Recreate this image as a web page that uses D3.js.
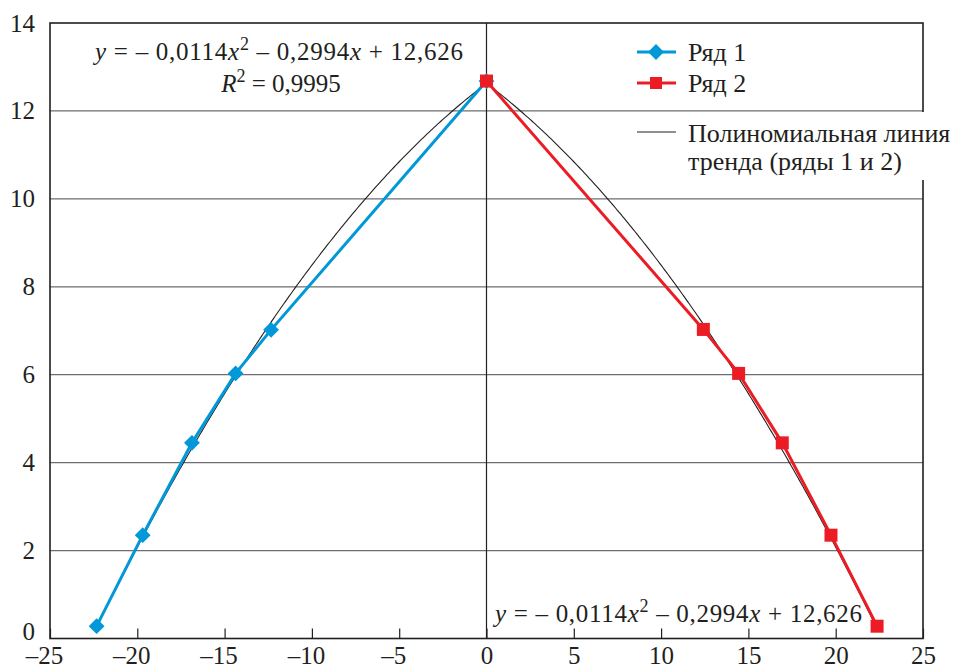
<!DOCTYPE html>
<html>
<head>
<meta charset="utf-8">
<script src="https://cdn.jsdelivr.net/npm/d3@7"></script>
<style>
  body { margin: 0; background: #fff; }
  svg text { font-family: "Liberation Serif", "DejaVu Serif", "Times New Roman", Times, serif; fill: #231f20; }
</style>
</head>
<body>
<div id="chart"></div>
<script>
// data
const series1X = [-22.33, -19.69, -16.87, -14.37, -12.34, 0];
const series1Y = [0.28, 2.35, 4.45, 6.03, 7.02, 12.68];
const series2X = [0, 12.42, 14.44, 16.94, 19.73, 22.37];
const series2Y = [12.68, 7.03, 6.03, 4.45, 2.35, 0.28];
// polynomial trend y = a*t^2 + b*t + c, t = |x| (from the equation on the chart)
const trendCoef = [-0.0114, -0.2994, 12.626];
const trendRange = [0, 22.37];
const xTicks = [-25, -20, -15, -10, -5, 0, 5, 10, 15, 20, 25];
const yTicks = [0, 2, 4, 6, 8, 10, 12, 14];
const legendNames = ["Ряд 1", "Ряд 2"];
const trendName = ["Полиномиальная линия", "тренда (ряды 1 и 2)"];

const W = 965, H = 671;
const margin = { top: 23, right: 42, bottom: 32.5, left: 50 };
const width = W - margin.left - margin.right;
const height = H - margin.top - margin.bottom;

const blue = "#0098d9", red = "#ec1c24";
const FONT = '"Liberation Serif", "DejaVu Serif", "Times New Roman", Times, serif';
const FS = 26, TICK_FS = 25, EQ_FS = 25;

const svg = d3.select("#chart").append("svg")
  .attr("width", W).attr("height", H)
  .attr("font-family", FONT);

const g = svg.append("g").attr("transform", `translate(${margin.left},${margin.top})`);

const x = d3.scaleLinear().domain([-25, 25]).range([0, width]);
const y = d3.scaleLinear().domain([0, 14]).range([height, 0]);

const fmt = d => d < 0 ? "–" + (-d) : String(d);

// horizontal grid lines
g.selectAll(".grid").data(yTicks.filter(d => d > 0 && d < 14)).enter()
  .append("line")
  .attr("x1", 0).attr("x2", width)
  .attr("y1", d => y(d)).attr("y2", d => y(d))
  .attr("stroke", "#6d6e71").attr("stroke-width", 1.3);

// vertical line at x = 0
g.append("line")
  .attr("x1", x(0)).attr("x2", x(0)).attr("y1", 0).attr("y2", height)
  .attr("stroke", "#231f20").attr("stroke-width", 1.2);

// x axis with inward ticks
const xAxis = g.append("g")
  .attr("transform", `translate(0,${height})`)
  .call(d3.axisBottom(x).tickValues(xTicks).tickFormat(fmt)
    .tickSizeInner(-10).tickSizeOuter(0).tickPadding(8));
xAxis.attr("font-family", FONT);
xAxis.select(".domain").remove();
xAxis.selectAll("line").attr("stroke", "#231f20").attr("stroke-width", 1.2);
xAxis.selectAll("text").attr("font-size", TICK_FS).attr("fill", "#231f20")
  .attr("dx", d => d < 0 ? -6 : 0);

// y axis labels only
const yAxis = g.append("g")
  .call(d3.axisLeft(y).tickValues(yTicks).tickSize(0).tickPadding(15));
yAxis.attr("font-family", FONT);
yAxis.select(".domain").remove();
yAxis.selectAll("text").attr("font-size", TICK_FS).attr("fill", "#231f20")
  .attr("dy", d => d === 0 ? "0.05em" : "0.32em");

// plot border
g.append("rect")
  .attr("width", width).attr("height", height)
  .attr("fill", "none").attr("stroke", "#231f20").attr("stroke-width", 1.6);

// trend line, both halves
const trendT = d3.range(trendRange[0], trendRange[1], 0.1).concat([trendRange[1]]);
const trendY = t => trendCoef[0] * t * t + trendCoef[1] * t + trendCoef[2];
const line = d3.line().x(d => x(d[0])).y(d => y(d[1]));
[1, -1].forEach(s => {
  g.append("path")
    .attr("d", line(trendT.map(t => [s * t, trendY(t)])))
    .attr("fill", "none").attr("stroke", "#231f20").attr("stroke-width", 1.1);
});

// series lines
const pts1 = series1X.map((v, i) => [v, series1Y[i]]);
const pts2 = series2X.map((v, i) => [v, series2Y[i]]);
g.append("path").attr("d", line(pts1))
  .attr("fill", "none").attr("stroke", blue).attr("stroke-width", 3);
g.append("path").attr("d", line(pts2))
  .attr("fill", "none").attr("stroke", red).attr("stroke-width", 3);

// markers
const diamond = d3.symbol().type(d3.symbolSquare).size(125);
g.selectAll(".m1").data(pts1).enter().append("path")
  .attr("d", diamond())
  .attr("transform", d => `translate(${x(d[0])},${y(d[1])}) rotate(45)`)
  .attr("fill", blue);
g.selectAll(".m2").data(pts2).enter().append("rect")
  .attr("x", d => x(d[0]) - 6.5).attr("y", d => y(d[1]) - 6.5)
  .attr("width", 13).attr("height", 13)
  .attr("fill", red);

// legend
const lg = svg.append("g");
lg.append("rect").attr("x", 630).attr("y", 112).attr("width", 335).attr("height", 68).attr("fill", "#fff");
const legendColors = [blue, red];
legendNames.forEach((name, i) => {
  const ly = 52 + i * 31;
  lg.append("line").attr("x1", 637).attr("x2", 676).attr("y1", ly).attr("y2", ly)
    .attr("stroke", legendColors[i]).attr("stroke-width", 3);
  if (i === 0) {
    lg.append("path").attr("d", diamond())
      .attr("transform", `translate(656,${ly}) rotate(45)`).attr("fill", blue);
  } else {
    lg.append("rect").attr("x", 650).attr("y", ly - 6).attr("width", 12).attr("height", 12).attr("fill", red);
  }
  lg.append("text").attr("x", 688).attr("y", ly + 9).attr("font-size", FS).text(name);
});
lg.append("line").attr("x1", 637).attr("x2", 676).attr("y1", 132).attr("y2", 132)
  .attr("stroke", "#231f20").attr("stroke-width", 1.1);
trendName.forEach((t, i) => {
  lg.append("text").attr("x", 688).attr("y", 142 + i * 28).attr("font-size", FS).text(t);
});

// equation texts
function equation(sel, xPos, yPos, anchor) {
  const t = sel.append("text").attr("x", xPos).attr("y", yPos)
    .attr("font-size", EQ_FS).attr("text-anchor", anchor);
  t.append("tspan").attr("font-style", "italic").text("y");
  t.append("tspan").text(" = – 0,0114");
  t.append("tspan").attr("font-style", "italic").text("x");
  t.append("tspan").attr("font-size", 18).attr("dy", -10).text("2");
  t.append("tspan").attr("dy", 10).text(" – 0,2994");
  t.append("tspan").attr("font-style", "italic").text("x");
  t.append("tspan").text(" + 12,626");
  return t;
}
equation(svg, 279, 60, "middle").attr("textLength", 368).attr("lengthAdjust", "spacing");
const r2 = svg.append("text").attr("x", 281).attr("y", 92)
  .attr("font-size", EQ_FS).attr("text-anchor", "middle");
r2.append("tspan").attr("font-style", "italic").text("R");
r2.append("tspan").attr("font-size", 18).attr("dy", -10).text("2");
r2.append("tspan").attr("dy", 10).text(" = 0,9995");

equation(svg, 495, 622, "start").attr("textLength", 367).attr("lengthAdjust", "spacing");
</script>
</body>
</html>
